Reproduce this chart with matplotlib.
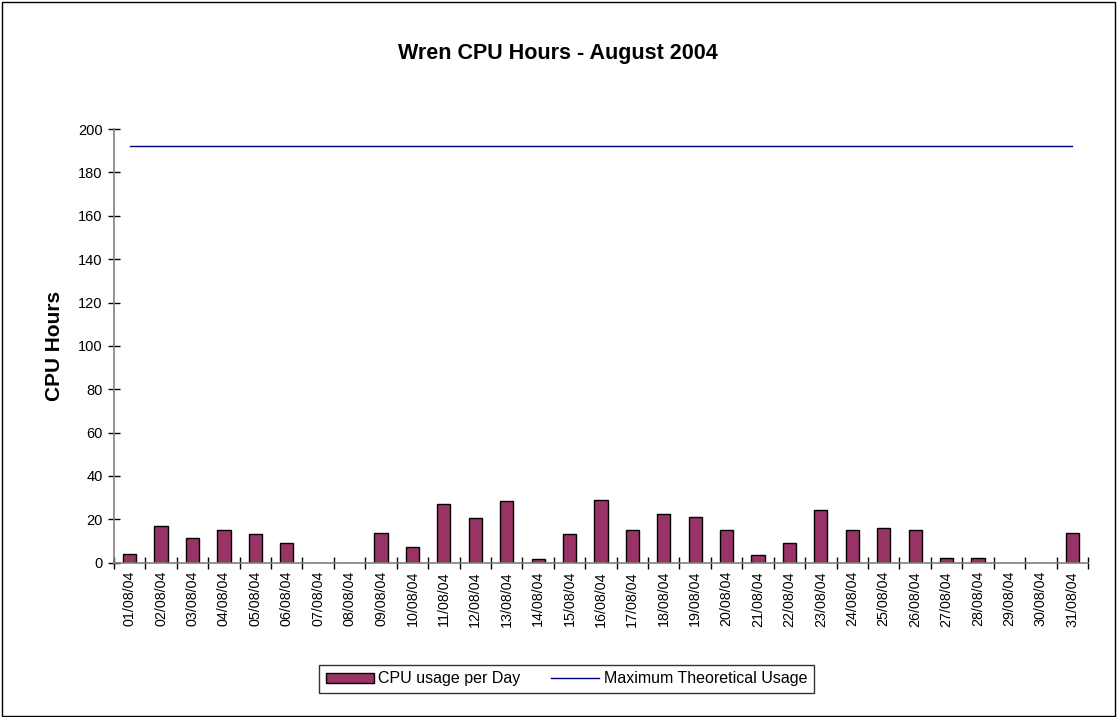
import numpy as np
import matplotlib.pyplot as plt
from matplotlib.patches import Rectangle

plt.rcParams['font.family'] = ['Liberation Sans', 'DejaVu Sans']

# data
dagar = ["%02d/08/04" % d for d in range(1, 32)]
cpu_timmar = [4, 17, 11.4, 15.2, 13.2, 9.2, 0, 0, 13.8, 7.4,
              26.9, 20.5, 28.3, 1.8, 13.2, 28.9, 15.2, 22.5, 21.1, 15.2,
              3.4, 9.2, 24.5, 15.2, 16, 15.2, 2, 2, 0, 0, 13.8]
max_timmar = [192] * 31

fig = plt.figure(figsize=(11.17, 7.17), dpi=100)
ax = fig.add_axes([0.102, 0.2152, 0.872, 0.6048])

x = np.arange(len(dagar))
staplar = ax.bar(x, cpu_timmar, width=0.42, color='#993366', edgecolor='black', linewidth=1,
                 label='CPU usage per Day')
linje, = ax.plot(x, max_timmar, color='#000080', linewidth=1, label='Maximum Theoretical Usage')

ax.set_xlim(-0.5, len(dagar) - 0.5)
ax.set_ylim(0, 200)
ax.set_yticks(range(0, 201, 20))
ax.set_xticks(x)
ax.set_xticklabels(dagar, rotation=90, fontsize=10.3)
ax.set_xticks(np.arange(-0.5, len(dagar), 1), minor=True)
ax.tick_params(axis='x', which='major', length=0, pad=6)
ax.tick_params(axis='x', which='minor', direction='inout', length=8, width=1)
ax.tick_params(axis='y', direction='inout', length=8, width=1, labelsize=10.5, pad=4)

for s in ['top', 'right']:
    ax.spines[s].set_visible(False)
for s in ['left', 'bottom']:
    ax.spines[s].set_color('#808080')
    ax.spines[s].set_linewidth(1.2)

ax.set_ylabel('CPU Hours', fontsize=15, fontweight='bold', labelpad=10)
fig.text(0.4996, 1 - 54 / 717, 'Wren CPU Hours - August 2004', ha='center', va='center',
         fontsize=15.5, fontweight='bold')

leg = ax.legend([staplar, linje], ['CPU usage per Day', 'Maximum Theoretical Usage'],
                loc='center', bbox_to_anchor=(566.5 / 1117, 1 - 679 / 717),
                bbox_transform=fig.transFigure, ncol=2, fontsize=11.5, frameon=True,
                fancybox=False, edgecolor='black', handlelength=3.0, handleheight=0.6,
                handletextpad=0.3, columnspacing=1.9, borderpad=0.4)
leg.get_frame().set_linewidth(1)

# ram runt hela figuren
fig.patches.append(Rectangle((0.002, 0.002), 0.996, 0.995, transform=fig.transFigure,
                             fill=False, edgecolor='black', linewidth=1))

fig.savefig('out.png', dpi=100)
